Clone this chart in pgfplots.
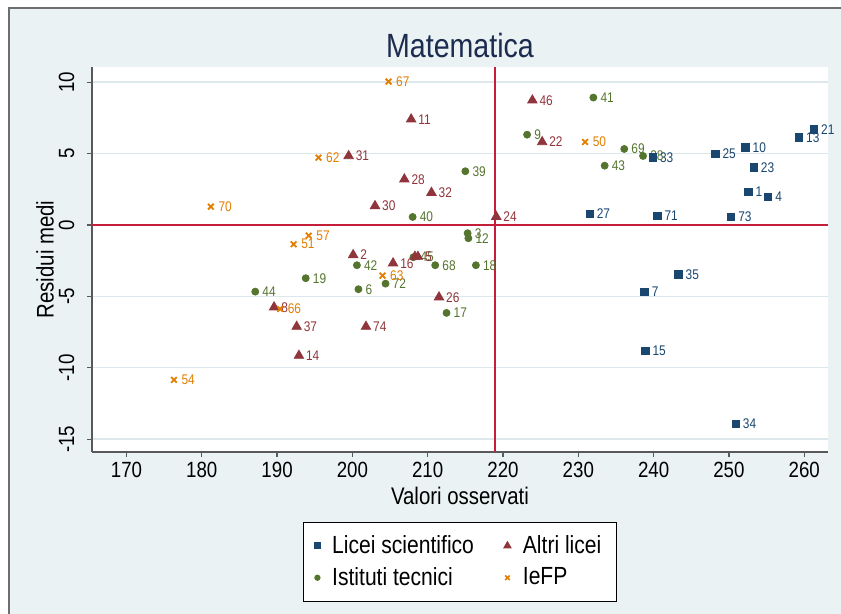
\documentclass[border=0pt]{standalone}
\usepackage{fontspec}
\setmainfont{Liberation Sans}[FakeStretch=0.85]
\usepackage{pgfplots}
\pgfplotsset{compat=1.18}
\usepackage{pgfplotstable}

\definecolor{bgc}{HTML}{EAF2F3}
\definecolor{gridc}{HTML}{DCE8EC}
\definecolor{framec}{HTML}{6E6E6E}
\definecolor{redl}{HTML}{C41E3A}
\definecolor{navyc}{HTML}{1A476F}
\definecolor{maroonc}{HTML}{90353B}
\definecolor{greenc}{HTML}{55752F}
\definecolor{orangec}{HTML}{E37E00}
\definecolor{titlec}{HTML}{1C2B50}

\pgfplotstableread{
x y lab
252.6 2.31 1
255.2 1.98 4
238.8 -4.67 7
252.2 5.44 10
259.3 6.14 13
238.9 -8.82 15
261.3 6.70 21
253.3 4.04 23
248.2 4.97 25
231.5 0.77 27
239.9 4.74 33
250.9 -13.94 34
243.3 -3.45 35
240.5 0.63 71
250.3 0.58 73
}\licei

\pgfplotstableread{
x y lab
200.1 -2.10 2
189.6 -5.76 8
207.8 7.40 11
192.9 -9.15 14
205.4 -2.68 16
225.2 5.81 22
219.1 0.58 24
211.5 -5.06 26
206.9 3.20 28
203.0 1.33 30
199.5 4.83 31
210.5 2.26 32
192.6 -7.12 37
208.7 -2.22 5
223.9 8.73 46
201.8 -7.12 74
}\altri

\pgfplotstableread{
x y
208.3 -2.22
}\altrib

\pgfplotstableread{
x y lab
215.3 -0.58 3
200.8 -4.50 6
223.2 6.32 9
215.4 -0.93 12
212.5 -6.16 17
216.4 -2.82 18
193.8 -3.73 19
238.6 4.83 38
215.0 3.76 39
208.0 0.56 40
232.0 8.92 41
200.6 -2.82 42
233.5 4.15 43
187.1 -4.67 44
208.1 -2.26 45
211.0 -2.82 68
236.1 5.32 69
204.4 -4.11 72
}\tecnici

\pgfplotstableread{
x y lab
230.9 5.81 50
192.2 -1.35 51
176.3 -10.85 54
194.2 -0.75 57
195.5 4.71 62
204.0 -3.55 63
190.4 -5.88 66
204.8 10.04 67
181.2 1.28 70
}\iefp

\newcommand{\lblfont}{\fontsize{7}{8}\selectfont}

\begin{document}
\begin{tikzpicture}
\useasboundingbox (0,0) rectangle (420.5pt,-307pt);
\fill[white] (0,0) rectangle (420.5pt,-307pt);
\fill[bgc] (4.5pt,-4pt) rectangle (426pt,-312pt);
\draw[framec, line width=0.6pt] (4.5pt,-4pt) rectangle (426pt,-312pt);
\begin{axis}[
  at={(46pt,-226pt)}, anchor=south west,
  scale only axis, width=368pt, height=192.5pt,
  xmin=165.42, xmax=263.16, ymin=-15.90, ymax=11.06,
  axis background/.style={fill=white},
  axis x line*=bottom, axis y line*=left,
  axis line style={draw=black!65, line width=0.6pt},
  xtick={170,180,...,260}, ytick={-15,-10,-5,0,5,10},
  tick align=outside, major tick length=2.6pt,
  tick style={draw=black!65, line width=0.6pt},
  ymajorgrids, grid style={draw=gridc, line width=0.7pt},
  /pgf/number format/assume math mode=true,
  xticklabel style={font=\fontsize{11}{13}\selectfont, inner sep=0pt, anchor=north},
  yticklabel style={font=\fontsize{11}{13}\selectfont, inner sep=0pt, rotate=90, anchor=south},
  xticklabel shift=2.5pt,
  yticklabel shift=6pt,
  every axis title shift=0pt,
  title={Matematica},
  title style={at={(0.5,1.0571)}, anchor=center, font=\fontsize{16.8}{19}\selectfont, text=titlec, inner sep=0pt},
  xlabel={Valori osservati},
  xlabel style={at={(axis description cs:0.5,-0.1143)}, anchor=center, font=\fontsize{12}{14}\selectfont, inner sep=0pt},
  ylabel={Residui medi},
  ylabel style={at={(axis description cs:-0.0639,0.5)}, anchor=center, font=\fontsize{12}{14}\selectfont, inner sep=0pt},
  legend columns=2,
  legend style={at={(0.5,-0.1818)}, anchor=north, draw=black, line width=0.5pt, fill=white,
    font=\fontsize{12.4}{15}\selectfont, inner xsep=5.5pt, inner ysep=4.4pt,
    /tikz/every odd column/.append style={column sep=4pt},
    /tikz/every even column/.append style={column sep=13pt},
    row sep=1.5pt},
  legend cell align=left,
  nodes near coords, point meta=explicit symbolic,
  every node near coord/.append style={anchor=west, inner sep=0pt, xshift=3.4pt, font=\lblfont},
  clip=false,
]
\addlegendimage{only marks, mark=square*, mark size=1.4pt, color=navyc}
\addlegendentry{Licei scientifico}
\addlegendimage{only marks, mark=triangle*, mark size=2pt, color=maroonc}
\addlegendentry{Altri licei}
\addlegendimage{only marks, mark=*, mark size=1.3pt, color=greenc}
\addlegendentry{Istituti tecnici}
\addlegendimage{only marks, mark=x, mark size=1.6pt, line width=0.8pt, color=orangec}
\addlegendentry{IeFP}

\addplot[forget plot, redl, line width=0.9pt, nodes near coords={}] coordinates {(165.42,0) (263.16,0)};
\addplot[forget plot, redl, line width=0.9pt, nodes near coords={}] coordinates {(218.9,-15.90) (218.9,11.06)};

\addplot[forget plot, only marks, mark=*, mark size=1.75pt, color=greenc,
  every node near coord/.append style={text=greenc}] table[x=x, y=y, meta=lab] {\tecnici};
\addplot[forget plot, only marks, mark=triangle*, mark size=2.7pt, color=maroonc, nodes near coords={}] table[x=x, y=y] {\altrib};
\addplot[forget plot, only marks, mark=triangle*, mark size=2.7pt, color=maroonc,
  every node near coord/.append style={text=maroonc}] table[x=x, y=y, meta=lab] {\altri};
\addplot[forget plot, only marks, mark=x, mark size=2pt, line width=0.9pt, color=orangec,
  every node near coord/.append style={text=orangec}] table[x=x, y=y, meta=lab] {\iefp};
\addplot[forget plot, only marks, mark=square*, mark size=1.85pt, color=navyc,
  every node near coord/.append style={text=navyc}] table[x=x, y=y, meta=lab] {\licei};
\end{axis}
\end{tikzpicture}
\end{document}
